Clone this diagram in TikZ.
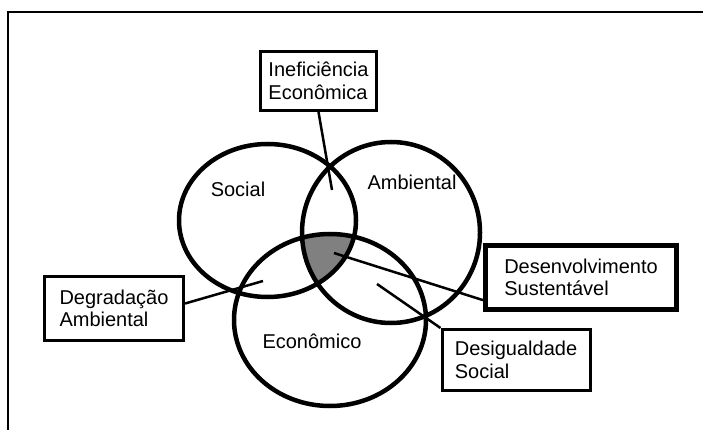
\documentclass[tikz,border=0pt]{standalone}
\usepackage{fontspec}
\setmainfont{Liberation Sans}
\begin{document}
\begin{tikzpicture}[x=1pt,y=-1pt,
  every node/.style={font=\fontsize{20}{22.5}\selectfont, inner sep=0pt},
  lbox/.style={draw, line width=3pt, align=left},
  ring/.style={line width=4.5pt},
  conn/.style={line width=2.5pt}]
\useasboundingbox (0,0) rectangle (703,430);
% frame
\draw[line width=1.2pt] (8,430) -- (8,12) -- (703,12);
% centres
\coordinate (cS) at (267.5,220.5);
\coordinate (cA) at (391,232.5);
\coordinate (cE) at (330,320);
% grey intersection
\begin{scope}
  \clip (cS) ellipse [x radius=88.5pt, y radius=76.5pt];
  \clip (cA) ellipse [x radius=89pt, y radius=90.5pt];
  \fill[fill={rgb,255:red,128;green,128;blue,128}] (cE) ellipse [x radius=96pt, y radius=86pt];
\end{scope}
% circles
\draw[ring] (cS) ellipse [x radius=88.5pt, y radius=76.5pt];
\draw[ring] (cA) ellipse [x radius=89pt, y radius=90.5pt];
\draw[ring] (cE) ellipse [x radius=96pt, y radius=86pt];
% circle labels
\node (social) at (238,189) {Social};
\node (amb) at (412,182) {Ambiental};
\node (econ) at (312,341) {Econômico};
% boxes
\node[lbox, minimum width=116pt, minimum height=59pt] (inef) at (318.5,81) {Ineficiência\\Econômica};
\node[lbox, minimum width=139pt, minimum height=64pt] (degr) at (114,308.5) {Degradação\\Ambiental};
\node[lbox, line width=5pt, minimum width=191pt, minimum height=64pt] (desenv) at (581,277.5) {Desenvolvimento\\Sustentável};
\node[lbox, minimum width=148pt, minimum height=61pt] (desig) at (516,360) {Desigualdade\\Social};
% connector end points
\coordinate (pInef) at (332,190);
\coordinate (pDegr) at (263,281);
\coordinate (pDes) at (334,253);
\coordinate (pDesig) at (377,284);
% connectors
\draw[conn] (inef.south) -- (pInef);
\draw[conn] (degr.4) -- (pDegr);
\draw[conn] (desenv.193) -- (pDes);
\draw[conn] (desig.north west) -- (pDesig);
\end{tikzpicture}
\end{document}
